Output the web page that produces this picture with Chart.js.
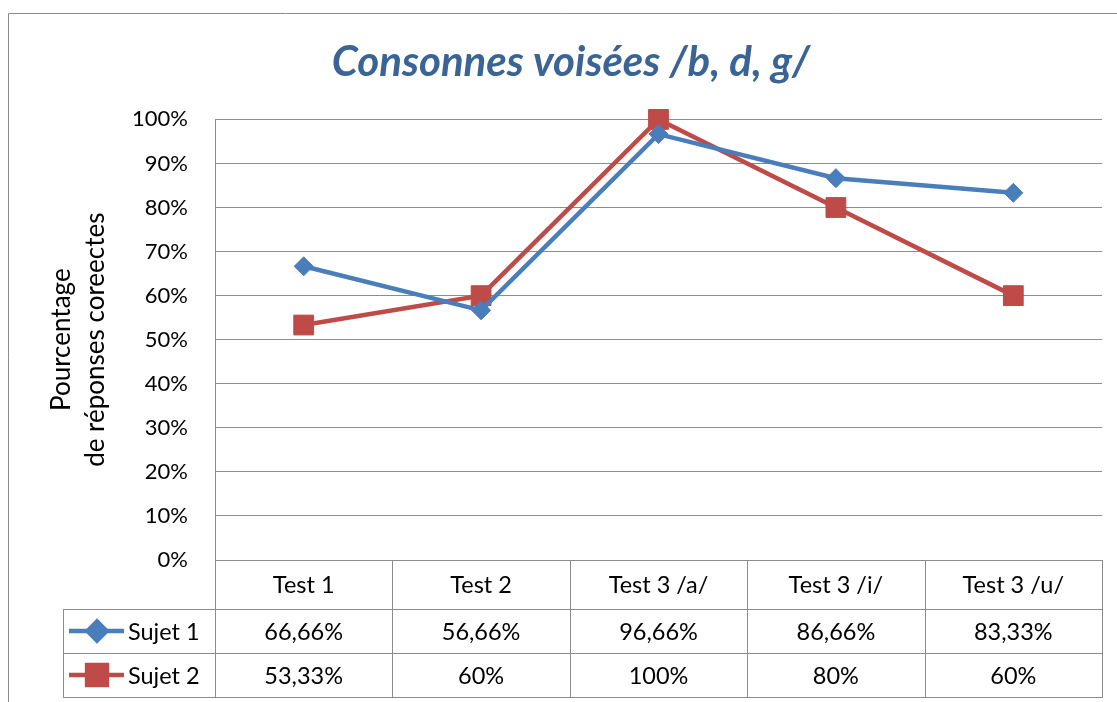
<!DOCTYPE html>
<html>
<head>
<meta charset="utf-8">
<script src="https://cdn.jsdelivr.net/npm/chart.js@4"></script>
<style>
  body { margin: 0; background: #fff; }
  #wrap { position: relative; width: 1117px; height: 702px; }
</style>
</head>
<body>
<div id="wrap"><canvas id="chart"></canvas></div>
<script>
// données du graphique
const categories = ['Test 1', 'Test 2', 'Test 3 /a/', 'Test 3 /i/', 'Test 3 /u/'];
const seriesNames = ['Sujet 1', 'Sujet 2'];
const sujet1 = [66.66, 56.66, 96.66, 86.66, 83.33];
const sujet2 = [53.33, 60, 100, 80, 60];
const yTicks = [0, 10, 20, 30, 40, 50, 60, 70, 80, 90, 100];

const gridColor = '#8c8c8c';
const textFont = 'Lato, "Open Sans", sans-serif';

// format "66,66%"
function formatPct(v) {
  return String(v).replace('.', ',') + '%';
}

// bordure extérieure du graphique
const frame = {
  id: 'frame',
  beforeDraw(chart) {
    const ctx = chart.ctx;
    ctx.save();
    ctx.fillStyle = '#fff';
    ctx.fillRect(0, 0, chart.width, chart.height);
    ctx.strokeStyle = '#8c8c8c';
    ctx.lineWidth = 1;
    ctx.beginPath();
    ctx.moveTo(8.5, chart.height);
    ctx.lineTo(8.5, 13.5);
    ctx.lineTo(chart.width, 13.5);
    ctx.stroke();
    ctx.restore();
  }
};

// table de données sous le graphique
const dataTable = {
  id: 'dataTable',
  afterDraw(chart) {
    const ctx = chart.ctx;
    const area = chart.chartArea;
    const n = categories.length;
    const colW = (area.right - area.left) / n;
    const rows = [area.bottom, 609, 653, 697];
    const legendLeft = 63;

    ctx.save();
    ctx.strokeStyle = gridColor;
    ctx.lineWidth = 1;
    ctx.beginPath();
    // lignes verticales
    for (let i = 0; i <= n; i++) {
      const x = Math.round(area.left + i * colW) + 0.5;
      ctx.moveTo(x, rows[0]);
      ctx.lineTo(x, rows[3]);
    }
    ctx.moveTo(legendLeft + 0.5, rows[1]);
    ctx.lineTo(legendLeft + 0.5, rows[3]);
    // lignes horizontales
    for (let r = 1; r < rows.length; r++) {
      ctx.moveTo(legendLeft, rows[r] + 0.5);
      ctx.lineTo(area.right + 1, rows[r] + 0.5);
    }
    ctx.stroke();

    ctx.fillStyle = '#000';
    ctx.font = '23.5px ' + textFont;
    ctx.textAlign = 'center';
    ctx.textBaseline = 'middle';
    const xScale = chart.scales.x;
    categories.forEach((c, i) => {
      const x = xScale.getPixelForValue(i);
      ctx.fillText(c, x, (rows[0] + rows[1]) / 2 + 1);
    });

    chart.data.datasets.forEach((ds, d) => {
      const yMid = (rows[d + 1] + rows[d + 2]) / 2 + 1;
      ds.data.forEach((v, i) => {
        ctx.fillStyle = '#000';
        ctx.fillText(formatPct(v), xScale.getPixelForValue(i), yMid);
      });
      // clé de légende
      ctx.strokeStyle = ds.borderColor;
      ctx.lineWidth = ds.borderWidth;
      ctx.beginPath();
      ctx.moveTo(69, yMid - 1);
      ctx.lineTo(124, yMid - 1);
      ctx.stroke();
      ctx.fillStyle = ds.pointBackgroundColor;
      ctx.strokeStyle = ds.pointBorderColor;
      Chart.helpers.drawPoint(ctx, {
        pointStyle: ds.pointStyle,
        radius: ds.pointRadius,
        borderWidth: ds.pointBorderWidth,
        rotation: 0
      }, 97, yMid - 1);
      ctx.fillStyle = '#000';
      ctx.textAlign = 'left';
      ctx.fillText(ds.label, 128, yMid);
      ctx.textAlign = 'center';
    });
    ctx.restore();
  }
};

new Chart(document.getElementById('chart'), {
  type: 'line',
  data: {
    labels: categories,
    datasets: [
      {
        label: seriesNames[0],
        data: sujet1,
        borderColor: '#4a7ebb',
        borderWidth: 4.5,
        pointStyle: 'rectRot',
        pointRadius: 9.5,
        pointHoverRadius: 9.5,
        pointBackgroundColor: '#4a7ebb',
        pointBorderColor: '#4a7ebb',
        pointBorderWidth: 1,
        tension: 0,
        clip: false
      },
      {
        label: seriesNames[1],
        data: sujet2,
        borderColor: '#be4b48',
        borderWidth: 4.5,
        pointStyle: 'rect',
        pointRadius: 14,
        pointHoverRadius: 14,
        pointBackgroundColor: '#be4b48',
        pointBorderColor: '#be4b48',
        pointBorderWidth: 1,
        tension: 0,
        clip: false
      }
    ]
  },
  options: {
    responsive: true,
    maintainAspectRatio: false,
    animation: false,
    events: [],
    layout: { padding: { left: 40, right: 15, top: 10, bottom: 142 } },
    plugins: {
      legend: { display: false },
      tooltip: { enabled: false },
      title: {
        display: true,
        text: 'Consonnes voisées /b, d, g/',
        color: '#3b6496',
        font: { family: textFont, size: 42, style: 'italic', weight: 'bold', lineHeight: 1.2 },
        padding: { top: 27, bottom: 32 }
      }
    },
    scales: {
      x: {
        type: 'category',
        offset: true,
        display: false
      },
      y: {
        min: 0,
        max: 100,
        afterBuildTicks(scale) {
          scale.ticks = yTicks.map(v => ({ value: v }));
        },
        afterFit(scale) {
          scale.width = 175;
        },
        ticks: {
          color: '#000',
          padding: 27,
          font: { family: textFont, size: 22 },
          callback: v => v + '%'
        },
        grid: { color: gridColor, drawTicks: false, lineWidth: 1 },
        border: { display: true, color: gridColor },
        title: {
          display: true,
          text: ['Pourcentage', 'de réponses coreectes'],
          color: '#000',
          font: { family: textFont, size: 26, lineHeight: 1.31 },
          padding: { top: 5, bottom: 0 }
        }
      }
    }
  },
  plugins: [frame, dataTable]
});
</script>
</body>
</html>
